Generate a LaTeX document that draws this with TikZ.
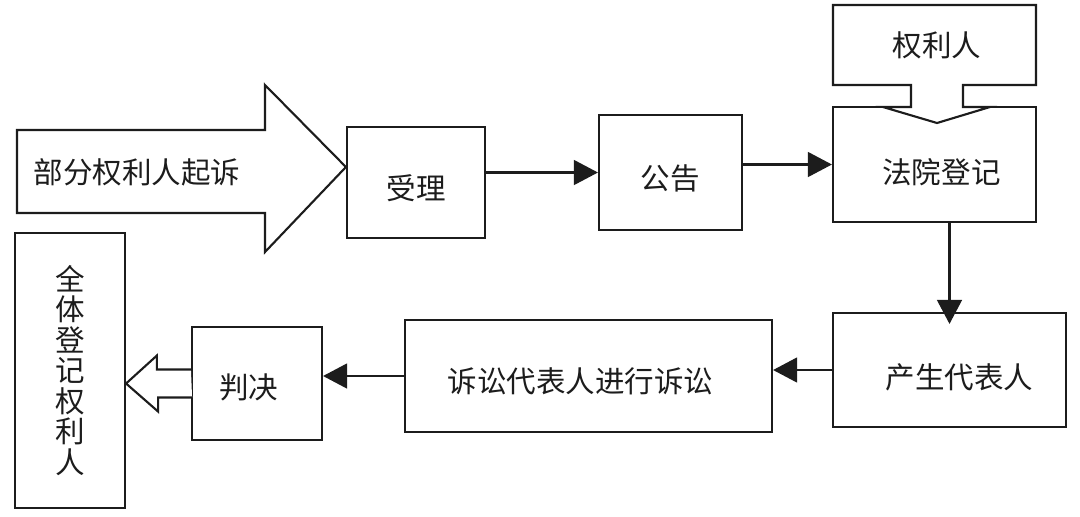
\documentclass[tikz,border=0pt]{standalone}
\usepackage{fontspec}
\usepackage{xcolor}
\usepackage{tikz}
\usetikzlibrary{arrows.meta,positioning,calc}
\newfontfamily\cjk{Noto Sans CJK SC}
\definecolor{ink}{HTML}{1C1C1C}
\newcommand{\lowtxt}[2][0.14cm]{\raisebox{-#1}[\height][\depth]{#2}}

\begin{document}
\begin{tikzpicture}[
  x=0.025cm, y=-0.025cm,
  >={Triangle[length=6mm, width=6.2mm]},
  font=\cjk\fontsize{21}{22}\selectfont,
  box/.style={draw=ink, line width=1.5pt, fill=white, inner sep=0pt, text=ink},
  blk/.style={draw=ink, line width=1.5pt, line join=miter, fill=white},
  lbl/.style={inner sep=0pt, text=ink},
  flow/.style={->, line width=1.5pt, ink},
]
\fill[white] (0,0) rectangle (1080,516);
\useasboundingbox (0,0) rectangle (1080,516);

% ---------- top row ----------
\node[box, minimum width=3.45cm, minimum height=2.775cm] (SL) at (416,182.5) {\lowtxt{受理}};
\node[box, minimum width=3.575cm, minimum height=2.875cm] (GG) at (670.5,172.5) {\lowtxt{公告}};
\node[box, minimum width=5.075cm, minimum height=2.875cm] (FY) at (934.5,164.5)
  {\hspace*{0.35cm}\lowtxt[0.2cm]{法院登记}};

% big block arrow into the first box
\draw[blk] (17,130) -- (265,130) -- (265,85) -- (SL.west |- 0,167) -- (265,252) -- (265,213) -- (17,213) -- cycle;
\node[lbl] (QS) at (137,172) {部分权利人起诉};

% right holders box with its arrow into the court box
\draw[blk] (911,85) -- (833,85) -- (833,5) -- (1036,5) -- (1036,85) -- (963,85)
  -- (963,107) -- (990,107) -- (937,123) -- (883,107) -- (911,107) -- cycle;
\node[lbl] (QL) at (937,45) {权利人};

\draw[flow] (SL.east |- GG.west) -- (GG.west);
\draw[flow] (GG.east |- FY.west) -- (FY.west);

% ---------- bottom row ----------
\node[box, minimum width=5.825cm, minimum height=2.85cm] (CS) at (949.5,370)
  {\hspace*{0.5cm}\lowtxt[0.18cm]{产生代表人}};
\node[box, minimum width=9.175cm, minimum height=2.8cm] (SS) at (588.5,376)
  {\lowtxt{诉讼代表人进行诉讼}\hspace*{0.4cm}};
\node[box, minimum width=3.25cm, minimum height=2.825cm] (PJ) at (257,383.5)
  {\lowtxt[0.1cm]{判决}\hspace*{0.4cm}};
\node[box, minimum width=2.75cm, minimum height=6.875cm, align=center,
  font=\cjk\fontsize{21}{21.7}\selectfont] (QT) at (70,370.5) {全\\体\\登\\记\\权\\利\\人};

\draw[flow, shorten >=-0.3cm] (FY.south -| CS.north) -- (CS.north);
\draw[flow] (CS.west) -- (CS.west -| SS.east);
\draw[flow] (SS.west) -- (SS.west -| PJ.east);

% hollow arrow from the judgement to all holders
\draw[blk] (PJ.west) ++(0,-14) -- ++(-34,0) -- ++(0,-14) -- (QT.east |- PJ.west)
  -- ++(32,28) -- ++(0,-14) -- ++(34,0);

\end{tikzpicture}
\end{document}
